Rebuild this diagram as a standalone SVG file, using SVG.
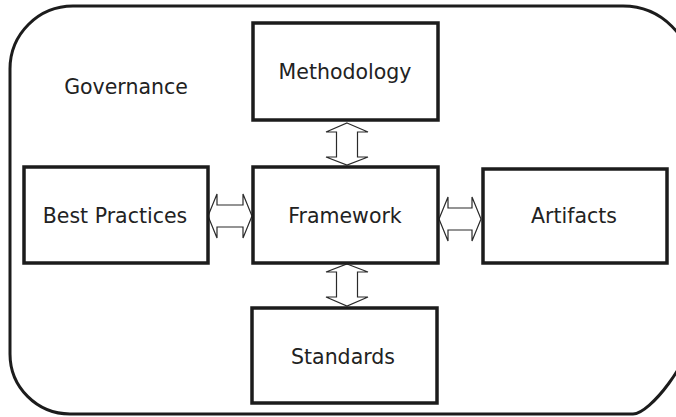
<svg xmlns="http://www.w3.org/2000/svg" width="676" height="417" viewBox="0 0 676 417">
<style>
.box{fill:#fff;stroke:#1c1c1c;stroke-width:3.5}
.lbl{font-family:"DejaVu Sans",Verdana,sans-serif;font-size:20.5px;fill:#222;text-anchor:middle}
.arr{fill:#fff;stroke:#2a2a2a;stroke-width:1.2;stroke-linejoin:miter}
</style>
<rect width="676" height="417" fill="#fff"/>
<g id="governance">
<path d="M 73,6 L 623,6 A 69 69 0 0 1 692,75 L 692,330 C 692,360 650,414 633,414 L 70,414 A 60 60 0 0 1 10,354 L 10,69 A 63 63 0 0 1 73,6 Z" fill="none" stroke="#1c1c1c" stroke-width="3"/>
<text class="lbl" x="126" y="94">Governance</text>
</g>
<g id="connectors">
<polygon class="arr" points="347,123 368,132 357.5,132 357.5,157 368,157 347,165 326,157 336.5,157 336.5,132 326,132"/>
<polygon class="arr" points="347,264 368,272 357.5,272 357.5,297 368,297 347,306 326,297 336.5,297 336.5,272 326,272"/>
<polygon class="arr" points="208,216 217,194 217,205 243,205 243,194 252,216 243,238 243,227 217,227 217,238"/>
<polygon class="arr" points="439,219 448,197 448,208 472,208 472,197 481,219 472,241 472,230 448,230 448,241"/>
</g>
<g id="methodology">
<rect class="box" x="253" y="23" width="185" height="97"/>
<text class="lbl" x="345" y="79">Methodology</text>
</g>
<g id="framework">
<rect class="box" x="253" y="167" width="185" height="96"/>
<text class="lbl" x="345" y="223">Framework</text>
</g>
<g id="best-practices">
<rect class="box" x="24" y="167" width="184" height="96"/>
<text class="lbl" x="115" y="223">Best Practices</text>
</g>
<g id="artifacts">
<rect class="box" x="483" y="169" width="184" height="94"/>
<text class="lbl" x="574" y="223">Artifacts</text>
</g>
<g id="standards">
<rect class="box" x="252" y="308" width="185" height="95"/>
<text class="lbl" x="343" y="364">Standards</text>
</g>
</svg>
